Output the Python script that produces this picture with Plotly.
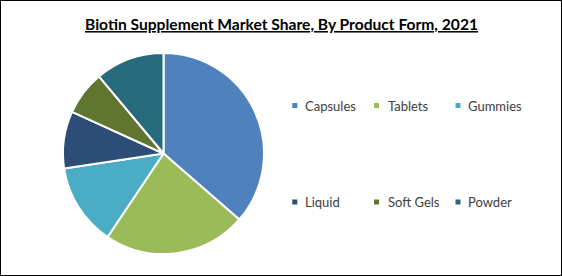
import plotly.graph_objects as go

labels = ["Capsules", "Tablets", "Gummies", "Liquid", "Soft Gels", "Powder"]
shares = [36.4, 23.0, 13.2, 9.2, 7.1, 11.1]
colors = ["#4F81BD", "#9BBB59", "#4BACC6", "#2C4D75", "#5F7530", "#276A7C"]
title_text = "Biotin Supplement Market Share, By Product Form, 2021"

W, H = 562, 276

fig = go.Figure()
fig.add_trace(go.Pie(
    labels=labels, values=shares, sort=False, direction="clockwise", rotation=0,
    marker=dict(colors=colors, line=dict(color="white", width=2)),
    textinfo="none", hoverinfo="label+percent", showlegend=False,
    domain=dict(x=[63 / W, 264 / W], y=[(H - 254) / H, (H - 53) / H]),
))

# legend drawn as annotations + square markers
col_x = [294.8, 376.5, 458]
text_x = [303, 386, 466]
row_y = [105.5, 202]
shapes = [dict(type="rect", xref="paper", yref="paper", x0=0, y0=0, x1=1, y1=1,
               line=dict(color="black", width=2), fillcolor="rgba(0,0,0,0)")]
annotations = []
for i, (lab, c) in enumerate(zip(labels, colors)):
    r, k = divmod(i, 3)
    cx, cy = col_x[k], row_y[r]
    shapes.append(dict(type="rect", xref="paper", yref="paper",
                       x0=(cx - 2.5) / W, x1=(cx + 2.5) / W,
                       y0=(H - cy - 2.5) / H, y1=(H - cy + 2.5) / H,
                       line=dict(width=0), fillcolor=c))
    annotations.append(dict(text=lab, xref="paper", yref="paper", x=text_x[k] / W,
                            y=(H - cy) / H, xanchor="left", yanchor="middle",
                            showarrow=False, font=dict(family="Lato", size=13, color="#404040")))

annotations.append(dict(text="<b><u>" + title_text + "</u></b>", xref="paper", yref="paper",
                        x=281.5 / W, y=(H - 24.5) / H, xanchor="center", yanchor="middle",
                        showarrow=False, font=dict(family="Lato", size=15.6, color="black")))

fig.update_layout(
    width=W, height=H, margin=dict(l=0, r=0, t=0, b=0),
    paper_bgcolor="white", plot_bgcolor="white",
    shapes=shapes, annotations=annotations,
)
fig.write_html("out.html")
